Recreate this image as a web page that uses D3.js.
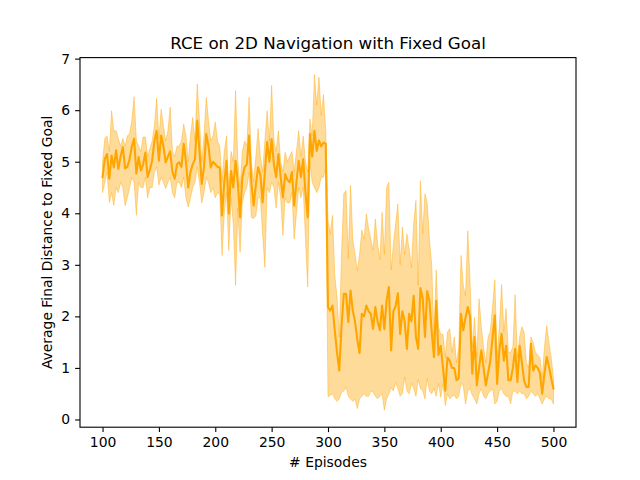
<!DOCTYPE html>
<html><head><meta charset="utf-8">
<script src="https://cdn.jsdelivr.net/npm/d3@7"></script>
<style>body{margin:0;background:#fff}svg{display:block}text{font-family:"DejaVu Sans",sans-serif}</style>
</head><body>
<script>
const episodes = d3.range(100, 501, 2);
const meanDist = [4.70,5.05,5.15,4.67,5.12,4.89,5.22,4.86,5.10,5.28,4.87,4.90,5.05,5.30,5.45,4.77,5.09,4.83,4.95,5.18,
4.70,4.85,5.02,5.40,5.60,5.02,5.51,5.30,4.99,5.10,5.20,4.80,4.67,4.95,4.99,4.90,5.35,5.00,4.50,4.80,
4.95,5.05,5.80,5.20,4.57,4.90,5.54,5.30,4.89,5.00,4.95,4.90,4.89,3.96,4.60,5.02,3.99,4.82,4.50,5.02,
4.60,3.92,4.70,4.89,4.95,5.51,4.60,4.15,4.55,4.89,4.75,4.21,4.80,5.38,5.00,5.44,4.95,4.70,5.15,4.70,
4.31,4.76,4.65,4.60,4.80,4.15,4.60,5.02,4.70,5.05,4.40,3.92,5.54,5.10,5.60,5.21,5.41,5.30,5.37,5.35,
2.18,2.11,2.21,1.73,1.30,0.95,1.80,2.44,2.44,1.89,2.50,2.11,1.90,1.55,1.29,2.05,2.00,2.21,2.10,2.05,
1.76,2.18,1.90,1.73,2.21,1.75,2.31,2.57,1.34,2.10,2.20,2.45,1.66,2.10,1.90,1.37,2.05,1.90,2.40,1.60,
1.37,2.55,2.35,1.60,2.49,2.30,1.70,1.21,2.30,1.25,1.43,1.00,0.56,1.20,1.14,1.00,1.00,0.76,0.80,2.05,
1.73,1.98,2.18,2.00,0.89,1.60,0.66,1.00,1.34,1.00,0.66,0.90,1.14,1.60,2.02,0.69,1.34,1.66,1.14,1.43,
0.76,0.76,1.00,1.37,0.73,1.43,1.10,0.75,0.63,0.63,1.47,0.95,1.05,1.00,0.90,0.50,0.89,1.21,1.03,0.80,0.60];
const upperDist = [5.00,5.45,5.50,5.20,5.99,5.60,5.60,5.45,5.30,5.45,5.30,5.50,5.55,5.80,6.26,5.40,5.30,5.20,5.48,5.48,
5.10,5.25,5.40,5.70,6.23,5.45,6.02,5.70,5.40,5.60,6.06,5.20,5.10,5.30,5.30,5.40,5.73,5.50,5.00,5.50,
5.86,5.40,6.51,5.80,5.00,5.50,6.25,5.80,5.40,5.50,5.77,5.40,5.30,4.60,5.20,5.50,4.40,5.20,5.00,6.38,
5.00,4.50,5.20,5.40,5.30,6.25,5.00,4.60,5.10,5.64,5.10,4.80,5.40,5.99,5.40,6.48,5.40,5.20,5.60,5.00,
4.80,5.18,5.00,5.10,5.20,4.80,5.20,5.60,5.10,5.50,5.00,4.80,5.83,5.50,6.69,6.10,6.64,5.90,6.30,5.60,
3.86,3.60,3.96,2.80,2.37,1.60,3.20,4.38,4.44,3.12,4.54,3.50,3.20,2.89,3.20,3.67,3.50,3.99,3.70,3.50,
3.28,3.89,3.40,3.10,4.02,3.20,4.50,4.60,2.90,3.40,3.80,4.18,3.00,3.73,3.20,3.60,3.30,2.95,3.80,4.25,
2.60,4.63,3.60,4.38,4.21,3.50,3.00,1.60,2.90,1.80,1.65,1.65,1.20,1.70,1.76,1.30,1.60,1.10,1.40,3.18,
2.60,2.40,3.66,2.70,1.40,1.98,1.20,2.34,1.80,1.40,1.10,1.60,1.70,2.20,2.71,1.20,1.80,2.62,1.70,2.15,
1.30,1.30,1.40,2.42,1.20,1.60,1.80,1.69,1.10,1.00,1.60,1.50,1.30,1.25,1.20,0.80,1.40,1.82,1.50,1.20,0.80];
const lowerDist = [4.40,4.60,4.80,4.21,4.40,4.15,4.50,4.40,4.60,4.50,4.15,4.30,4.50,4.70,4.60,3.96,4.60,4.50,4.50,4.70,
4.30,4.50,4.50,4.80,4.90,4.55,4.70,4.60,4.48,4.60,4.70,4.40,4.30,4.60,4.60,4.50,4.70,4.30,4.12,4.30,
4.50,4.60,4.90,4.60,4.20,4.40,4.70,4.60,4.40,4.50,4.30,4.40,4.37,3.18,4.00,4.40,3.28,4.30,3.80,2.60,
4.10,3.24,4.20,4.40,4.50,4.80,3.92,3.90,3.95,4.30,4.30,3.60,2.95,4.50,4.40,4.60,4.50,4.10,4.60,4.30,
3.57,4.30,4.20,4.20,4.40,3.50,4.00,4.50,4.30,4.50,3.50,2.57,5.00,4.60,4.50,4.40,4.50,4.70,4.70,4.90,
0.44,0.47,0.50,0.40,0.35,0.40,0.53,0.55,0.63,0.45,0.40,0.35,0.40,0.21,0.40,0.45,0.50,0.45,0.45,0.55,
0.53,0.45,0.40,0.45,0.50,0.18,0.40,0.50,0.63,0.55,0.72,0.60,0.45,0.50,0.82,0.55,0.50,0.70,0.60,0.45,
0.78,0.60,0.55,0.40,0.80,0.55,0.50,0.60,0.45,0.70,0.43,0.70,0.27,0.50,0.40,0.45,0.47,0.40,0.45,0.70,
0.65,0.30,0.55,0.60,0.47,0.40,0.30,0.50,0.60,0.45,0.40,0.50,0.55,0.60,0.30,0.35,0.55,0.60,0.50,0.45,
0.45,0.30,0.55,0.55,0.50,0.55,0.50,0.50,0.40,0.45,0.55,0.50,0.45,0.50,0.40,0.30,0.40,0.45,0.40,0.40,0.30];
const xTicks = [100,150,200,250,300,350,400,450,500];
const yTicks = [0,1,2,3,4,5,6,7];

const W = 640, H = 480;
const m = {left:80, right:576, top:57.6, bottom:427.2};
const svg = d3.select("body").append("svg").attr("width", W).attr("height", H);
const x = d3.scaleLinear().domain([80, 520]).range([m.left, m.right]);
const y = d3.scaleLinear().domain([-0.15, 7.02]).range([m.bottom, m.top]);

const data = episodes.map((e,i)=>({e, m:meanDist[i], lo:lowerDist[i], hi:upperDist[i]}));

svg.append("path").datum(data)
  .attr("d", d3.area().x(d=>x(d.e)).y0(d=>y(d.lo)).y1(d=>y(d.hi)))
  .attr("fill", "orange").attr("fill-opacity", 0.4)
  .attr("stroke", "orange").attr("stroke-opacity", 0.4).attr("stroke-width", 1);

svg.append("path").datum(data)
  .attr("d", d3.line().x(d=>x(d.e)).y(d=>y(d.m)))
  .attr("fill", "none").attr("stroke", "orange").attr("stroke-width", 2.08)
  .attr("stroke-linejoin", "round").attr("stroke-linecap", "square");

// spines
svg.append("rect").attr("x", m.left).attr("y", m.top)
  .attr("width", m.right-m.left).attr("height", m.bottom-m.top)
  .attr("fill", "none").attr("stroke", "#000").attr("stroke-width", 1.1);

const xAxis = svg.append("g").attr("transform", `translate(0,${m.bottom})`)
  .call(d3.axisBottom(x).tickValues(xTicks).tickSize(4.9).tickPadding(4.9).tickFormat(d3.format("d")));
const yAxis = svg.append("g").attr("transform", `translate(${m.left},0)`)
  .call(d3.axisLeft(y).tickValues(yTicks).tickSize(4.9).tickPadding(4.9).tickFormat(d3.format("d")));
[xAxis, yAxis].forEach(g => {
  g.select(".domain").remove();
  g.selectAll(".tick line").attr("stroke", "#000").attr("stroke-width", 1.1);
  g.selectAll(".tick text").attr("fill", "#000").style("font-size", "13.9px").style("font-family", "DejaVu Sans");
});

svg.append("text").attr("x", (m.left+m.right)/2).attr("y", 49)
  .attr("text-anchor", "middle").style("font-size", "16.7px").text("RCE on 2D Navigation with Fixed Goal");
svg.append("text").attr("x", (m.left+m.right)/2).attr("y", 467)
  .attr("text-anchor", "middle").style("font-size", "13.9px").text("# Episodes");
svg.append("text").attr("transform", `translate(52,${(m.top+m.bottom)/2}) rotate(-90)`)
  .attr("text-anchor", "middle").style("font-size", "13.9px").text("Average Final Distance to Fixed Goal");
</script>
</body></html>
